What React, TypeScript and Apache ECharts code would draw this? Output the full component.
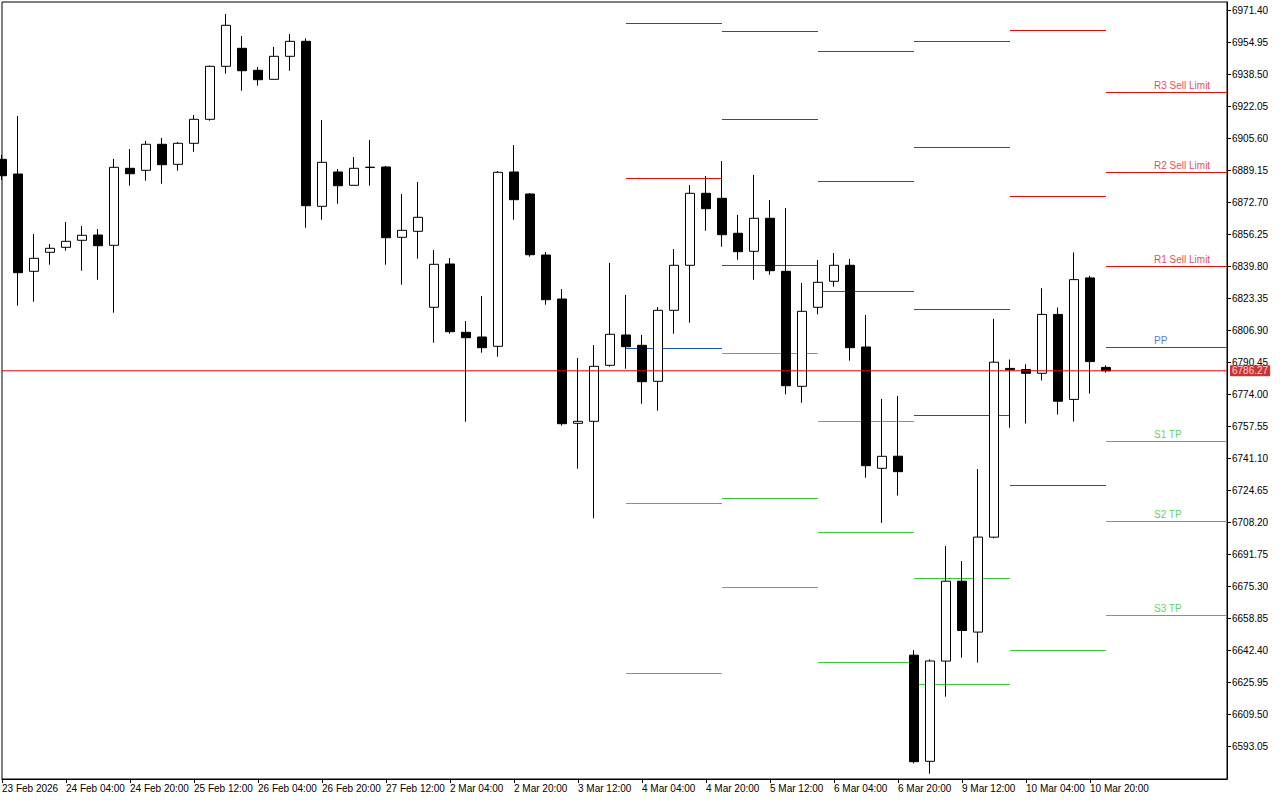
import React, { useEffect, useRef } from "react";
import * as echarts from "echarts";

// ---- data (H4 bars, index 0 = 23 Feb 12:00 ... 69 = 11 Mar 00:00) ----
const opens = [
  6894.99, 6887.44, 6837.42, 6847.19, 6849.76, 6853.36, 6856.08, 6850.79, 6890.37, 6889.34,
  6902.71, 6892.42, 6903.22, 6915.56, 6942.8, 6952.06, 6940.75, 6936.12, 6947.94, 6955.65,
  6870.83, 6888.47, 6881.63, 6890.75, 6891.04, 6854.9, 6857.98, 6818.92, 6841.17, 6806.06,
  6803.65, 6798.87, 6888.47, 6877.16, 6845.8, 6823.18, 6759.28, 6760.31, 6789.1, 6804.68,
  6799.38, 6780.87, 6817.37, 6840.51, 6877.52, 6874.95, 6856.96, 6847.7, 6864.67, 6837.42,
  6778.3, 6818.92, 6832.28, 6840.51, 6798.51, 6736.15, 6742.37, 6640.07, 6585.53, 6637.04,
  6678.11, 6651.95, 6700.74, 6787.51, 6786.94, 6784.99, 6815.26, 6771.57, 6834.03, 6788.02,
];
const closes = [
  6886.56, 6836.7, 6844.1, 6849.24, 6852.84, 6855.93, 6850.58, 6890.88, 6887.59, 6902.71,
  6892.22, 6903.22, 6915.56, 6942.8, 6963.88, 6940.54, 6935.91, 6947.94, 6955.65, 6871.14,
  6893.45, 6881.42, 6890.37, 6890.95, 6854.69, 6858.5, 6865.18, 6841.02, 6806.37, 6803.29,
  6798.15, 6888.31, 6874.23, 6845.95, 6822.82, 6759.08, 6760.31, 6788.58, 6805.04, 6798.66,
  6780.67, 6817.37, 6840.51, 6877.52, 6869.6, 6856.24, 6847.5, 6864.67, 6837.73, 6778.61,
  6816.86, 6831.77, 6840.51, 6798.15, 6737.49, 6742.32, 6734.41, 6585.33, 6637.09, 6678.11,
  6652.77, 6700.79, 6790.69, 6786.79, 6784.99, 6815.26, 6770.64, 6833.15, 6791.0, 6786.27,
];
const highs = [
  6897.21, 6917.25, 6856.59, 6851.45, 6862.76, 6860.71, 6859.17, 6895.15, 6900.29, 6904.4,
  6905.95, 6903.89, 6917.77, 6943.21, 6969.69, 6958.38, 6942.44, 6952.72, 6959.41, 6957.2,
  6915.2, 6890.01, 6896.18, 6904.92, 6891.55, 6877.16, 6883.33, 6848.37, 6844.26, 6811.87,
  6824.72, 6888.98, 6902.35, 6877.67, 6847.34, 6828.32, 6792.85, 6799.54, 6841.69, 6825.24,
  6804.68, 6819.07, 6848.88, 6881.79, 6886.41, 6894.12, 6866.36, 6886.93, 6874.07, 6869.96,
  6831.4, 6843.23, 6846.83, 6843.74, 6814.96, 6771.78, 6773.32, 6642.7, 6637.92, 6696.26,
  6688.5, 6735.79, 6812.95, 6792.08, 6789.61, 6828.73, 6818.81, 6847.14, 6835.11, 6789.1,
];
const lows = [
  6884.36, 6819.74, 6821.8, 6840.81, 6848.01, 6837.73, 6833.1, 6816.14, 6881.42, 6883.99,
  6882.45, 6889.14, 6898.9, 6914.84, 6939.0, 6930.26, 6932.83, 6936.0, 6940.54, 6859.83,
  6863.95, 6872.17, 6881.5, 6881.42, 6840.81, 6830.53, 6843.9, 6800.72, 6805.35, 6760.11,
  6795.58, 6793.52, 6863.95, 6844.93, 6820.25, 6758.05, 6735.95, 6710.45, 6788.38, 6787.35,
  6769.36, 6765.76, 6805.35, 6811.0, 6858.29, 6850.07, 6843.38, 6833.1, 6835.67, 6774.19,
  6769.87, 6815.32, 6829.51, 6791.51, 6731.32, 6708.14, 6722.12, 6584.45, 6579.16, 6618.74,
  6638.79, 6636.27, 6700.22, 6757.02, 6759.18, 6781.28, 6763.76, 6760.21, 6774.55, 6785.35,
];

const timeLabels = [
  "23 Feb 2026", "24 Feb 04:00", "24 Feb 20:00", "25 Feb 12:00", "26 Feb 04:00", "26 Feb 20:00",
  "27 Feb 12:00", "2 Mar 04:00", "2 Mar 20:00", "3 Mar 12:00", "4 Mar 04:00", "4 Mar 20:00",
  "5 Mar 12:00", "6 Mar 04:00", "6 Mar 20:00", "9 Mar 12:00", "10 Mar 04:00", "10 Mar 20:00",
];
const timeLabelBars = [0, 4, 8, 12, 16, 20, 24, 28, 32, 36, 40, 44, 48, 52, 56, 60, 64, 68];

const priceTicks = [
  6593.05, 6609.5, 6625.95, 6642.4, 6658.85, 6675.3, 6691.75, 6708.2, 6724.65, 6741.1,
  6757.55, 6774.0, 6790.45, 6806.9, 6823.35, 6839.8, 6856.25, 6872.7, 6889.15, 6905.6,
  6922.05, 6938.5, 6954.95, 6971.4,
];

// daily pivot levels: 4 Mar, 5 Mar, 6 Mar, 9 Mar, 10 Mar, 11 Mar
const pivotDayStartBar = [39, 45, 51, 57, 63, 69];
const r3 = [null, null, null, 6955.65, null, 6929.44];
const r2 = [6964.91, 6960.8, 6950.51, 6901.32, 6961.31, 6888.31];
const r1 = [6885.23, 6915.71, 6883.69, 6817.88, 6875.98, 6839.99];
const pp = [6797.84, 6840.51, 6827.14, 6763.39, 6727.41, 6798.25];
const s1 = [6718.16, 6795.27, 6760.31, 6679.6, 6642.59, 6750.03];
const s2 = [6630.77, 6720.73, 6703.25, 6625.11, null, 6708.91];
const s3 = [null, 6674.98, 6636.42, null, null, 6660.59];
const levelNames = ["R3 Sell Limit", "R2 Sell Limit", "R1 Sell Limit", "PP", "S1 TP", "S2 TP", "S3 TP"];

const currentPrice = 6786.27;

const X_MAX = 1225 / 16;
const Y_MIN = 6576.43;
const Y_MAX = 6975.86;

const RED = "#FF0000";
const BLUE = "#1450C8";
const GREEN = "#32CD32";
const PRICE_RED = "#E00000";
const LABEL_COLORS = ["#E0102E", "#E0102E", "#E0102E", "#1A55E0", "#32C832", "#32C832", "#32C832"];

export default function App() {
  const ref = useRef<HTMLDivElement>(null);

  useEffect(() => {
    if (!ref.current) return;
    const chart = echarts.init(ref.current, null, { renderer: "svg" });

    const levels = [r3, r2, r1, pp, s1, s2, s3];
    const levelColors = [RED, RED, RED, BLUE, GREEN, GREEN, GREEN];
    const segments: any[] = [];
    levels.forEach((arr, li) => {
      arr.forEach((p, di) => {
        if (p == null) return;
        const x0 = pivotDayStartBar[di];
        const x1 = di + 1 < pivotDayStartBar.length ? pivotDayStartBar[di + 1] : X_MAX;
        segments.push({ coords: [[x0, p], [x1, p]], lineStyle: { color: levelColors[li] } });
      });
    });
    const lastIdx = pivotDayStartBar.length - 1;
    const labelPoints = levels.map((arr, li) => ({
      value: [72, arr[lastIdx]],
      label: { formatter: levelNames[li], color: LABEL_COLORS[li] },
    }));

    const candleData = opens.map((o, i) => [i, o, closes[i], lows[i], highs[i]]);

    const font = '"Liberation Sans", Arial, sans-serif';
    chart.setOption({
      animation: false,
      backgroundColor: "#ffffff",
      textStyle: { fontFamily: font },
      grid: {
        left: 2,
        top: 2,
        width: 1225,
        height: 777,
        show: true,
        borderColor: "#000",
        borderWidth: 1,
        backgroundColor: "#fff",
        containLabel: false,
        outerBoundsMode: "none",
      },
      xAxis: {
        type: "value",
        min: 0,
        max: X_MAX,
        axisLine: { show: true, onZero: false, lineStyle: { color: "#000", width: 1 } },
        axisTick: { show: true, customValues: timeLabelBars, length: 4, lineStyle: { color: "#000" } },
        axisLabel: {
          customValues: timeLabelBars,
          formatter: (v: number) => timeLabels[Math.round(v / 4)] ?? "",
          align: "left",
          margin: 4,
          fontSize: 10,
          color: "#000",
          fontFamily: font,
        },
        splitLine: { show: false },
      },
      yAxis: {
        type: "value",
        position: "right",
        min: Y_MIN,
        max: Y_MAX,
        axisLine: { show: true, onZero: false, lineStyle: { color: "#000", width: 1 } },
        axisTick: { show: true, customValues: priceTicks, length: 4, lineStyle: { color: "#000" } },
        axisLabel: {
          customValues: priceTicks,
          formatter: (v: number) => v.toFixed(2),
          margin: 5,
          fontSize: 10,
          color: "#000",
          fontFamily: font,
        },
        splitLine: { show: false },
      },
      series: [
        {
          type: "lines",
          coordinateSystem: "cartesian2d",
          polyline: false,
          silent: true,
          z: 1,
          lineStyle: { width: 1, opacity: 1 },
          data: segments,
        },
        {
          type: "candlestick",
          data: candleData,
          barWidth: 10,
          clip: true,
          z: 3,
          itemStyle: {
            color: "#ffffff",
            color0: "#000000",
            borderColor: "#000000",
            borderColor0: "#000000",
            borderWidth: 1,
          },
        },
        {
          type: "line",
          silent: true,
          z: 5,
          symbol: "none",
          showSymbol: false,
          clip: false,
          color: PRICE_RED,
          lineStyle: { width: 1, color: PRICE_RED, type: "solid" },
          itemStyle: { color: PRICE_RED },
          data: [
            [0, currentPrice],
            [X_MAX, currentPrice],
          ],
        },
        {
          type: "scatter",
          symbolSize: 0,
          silent: true,
          clip: false,
          z: 6,
          data: [
            {
              value: [X_MAX, currentPrice],
              label: {
                show: true,
                position: "right",
                distance: 3,
                formatter: currentPrice.toFixed(2),
                backgroundColor: "#C00000",
                color: "#ffffff",
                padding: [1, 2, 0, 2],
                fontSize: 10,
                fontFamily: font,
              },
            },
          ],
        },
        {
          type: "scatter",
          symbolSize: 0,
          silent: true,
          z: 6,
          label: {
            show: true,
            position: "right",
            distance: 0,
            offset: [0, -7],
            fontSize: 10,
            fontFamily: font,
          },
          data: labelPoints,
        },
      ],
    });

    return () => chart.dispose();
  }, []);

  return (
    <div
      ref={ref}
      style={{ position: "fixed", left: 0, top: 0, width: 1280, height: 800, background: "#fff" }}
    />
  );
}
